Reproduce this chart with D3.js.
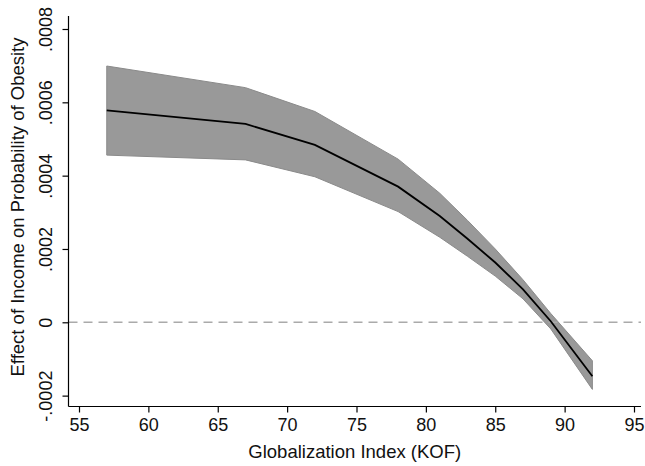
<html>
<meta charset='utf-8'>
<head>
    <script src="https://d3js.org/d3.v7.min.js"></script>
    <style>
      body { margin: 0; background: white; }
      text { font-family: "Liberation Sans", Arial, sans-serif; }
    </style>
</head>
<body>
<div id='viz'></div>
<script>
    // KOF values where the marginal effect was evaluated
    let kof = [57, 67, 72, 78, 81, 83, 85, 87, 89, 92];
    let effect = [0.000578, 0.000541, 0.000484, 0.000370, 0.000290, 0.000228, 0.000163, 0.000090, 0.000003, -0.000147];
    let upper = [0.000699, 0.000640, 0.000575, 0.000445, 0.000352, 0.000278, 0.000200, 0.000116, 0.000024, -0.000105];
    let lower = [0.000456, 0.000443, 0.000397, 0.000302, 0.000232, 0.000180, 0.000126, 0.000064, -0.000018, -0.000183];

    let xTicks = [55, 60, 65, 70, 75, 80, 85, 90, 95];
    let yTicks = [-0.0002, 0, 0.0002, 0.0004, 0.0006, 0.0008];
    let yTickLabels = ['-.0002', '0', '.0002', '.0004', '.0006', '.0008'];

    let width = 645, height = 466;
    let svg = d3.select('#viz').append('svg')
                .attr('width', width)
                .attr('height', height);

    let x = d3.scaleLinear().domain([55, 95]).range([79, 634]);
    let y = d3.scaleLinear().domain([0, 0.0008]).range([322.3, 29]);

    let plotLeft = 68.5, plotRight = 641, plotTop = 16, plotBottom = 406.5;

    let data = kof.map((k, i) => ({k: k, e: effect[i], hi: upper[i], lo: lower[i]}));

    // confidence band
    let area = d3.area()
        .x(d => x(d.k))
        .y0(d => y(d.lo))
        .y1(d => y(d.hi));
    svg.append('path')
        .datum(data)
        .attr('d', area)
        .attr('fill', '#999999')
        .attr('stroke', '#8a8a8a')
        .attr('stroke-width', 1);

    // zero reference line
    svg.append('line')
        .attr('x1', plotLeft).attr('x2', plotRight)
        .attr('y1', y(0)).attr('y2', y(0))
        .attr('stroke', '#aaaaaa')
        .attr('stroke-width', 1.5)
        .attr('stroke-dasharray', '9,6');

    // point estimate
    let line = d3.line()
        .x(d => x(d.k))
        .y(d => y(d.e));
    svg.append('path')
        .datum(data)
        .attr('d', line)
        .attr('fill', 'none')
        .attr('stroke', 'black')
        .attr('stroke-width', 1.8);

    // x axis
    let xAxis = d3.axisBottom(x).tickValues(xTicks).tickSize(6).tickPadding(6).tickSizeOuter(0);
    let gx = svg.append('g').attr('transform', `translate(0,${plotBottom})`).call(xAxis);
    gx.select('.domain').remove();
    gx.append('line').attr('x1', plotLeft).attr('x2', plotRight).attr('stroke', 'black').attr('stroke-width', 1.2);
    gx.selectAll('.tick line').attr('stroke-width', 1.2);
    gx.selectAll('.tick text').attr('font-size', '18px').attr('fill', '#111')
      .style('font-family', '"Liberation Sans", Arial, sans-serif');

    // y axis
    let yAxis = d3.axisLeft(y).tickValues(yTicks).tickSize(6).tickFormat((d, i) => yTickLabels[i]);
    let gy = svg.append('g').attr('transform', `translate(${plotLeft},0)`).call(yAxis);
    gy.select('.domain').remove();
    gy.append('line').attr('y1', plotTop).attr('y2', plotBottom).attr('stroke', 'black').attr('stroke-width', 1.2);
    gy.selectAll('.tick line').attr('stroke-width', 1.2);
    gy.selectAll('.tick text')
      .attr('x', null).attr('dy', null)
      .attr('transform', 'translate(-17,0) rotate(-90)')
      .attr('text-anchor', 'middle')
      .attr('font-size', '18px').attr('fill', '#111')
      .style('font-family', '"Liberation Sans", Arial, sans-serif');

    // titles
    svg.append('text')
        .attr('x', (plotLeft + plotRight) / 2)
        .attr('y', 458)
        .attr('text-anchor', 'middle')
        .attr('font-size', '18.5px')
        .attr('fill', '#111')
        .text('Globalization Index (KOF)');

    svg.append('text')
        .attr('transform', `translate(24,207) rotate(-90)`)
        .attr('text-anchor', 'middle')
        .attr('font-size', '18.5px')
        .attr('fill', '#111')
        .text('Effect of Income on Probability of Obesity');
</script>
</body>
</html>
